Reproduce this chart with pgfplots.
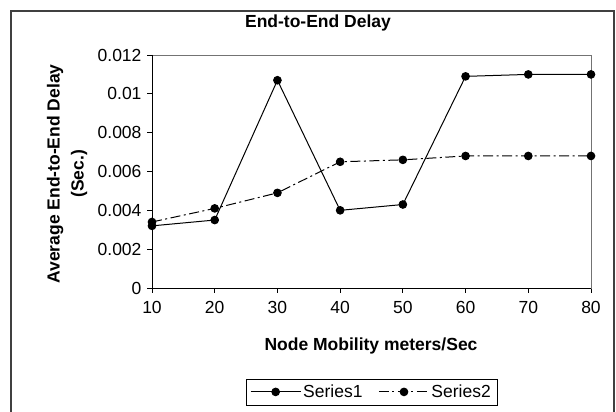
\documentclass[border=0pt]{standalone}
\usepackage{pgfplots}
\pgfplotsset{compat=1.18}
\usepackage{fontspec}
\setmainfont{Liberation Sans}
\begin{document}
\begin{tikzpicture}[x=1pt,y=1pt]
\path[use as bounding box] (0,0) rectangle (616,412);
\draw[line width=1.5pt, black!75] (11,-5) -- (11,401) -- (614,401) -- (614,-5);
\node[font=\bfseries\fontsize{17.5}{21}\selectfont] at (318,389.5) {End-to-End Delay};
\begin{axis}[at={(152pt,124pt)}, anchor=south west, scale only axis,
  width=439pt, height=233pt,
  xmin=10, xmax=80, ymin=0, ymax=0.012,
  xtick={10,20,30,40,50,60,70,80},
  ytick={0,0.002,0.004,0.006,0.008,0.01,0.012},
  yticklabels={0,0.002,0.004,0.006,0.008,0.01,0.012},
  scaled y ticks=false,
  tick align=outside, major tick length=5pt,
  xtick pos=bottom, ytick pos=left,
  axis line style={black!55, line width=0.8pt},
  tick style={black, line width=0.8pt},
  ticklabel style={font=\fontsize{17.5}{21}\selectfont},
  xticklabel style={yshift=-5pt},
  yticklabel style={xshift=-2pt},
  /pgf/number format/assume math mode=true,
  clip=false,
  legend columns=2,
  legend cell align=left,
  legend style={at={(0.5,-0.446)}, anchor=center, draw=black,
    font=\fontsize{17.5}{21}\selectfont, inner xsep=4pt, inner ysep=4pt,
    /tikz/every even column/.append style={column sep=14pt}},
  legend image code/.code={\draw[mark repeat=2,mark phase=2,#1] plot coordinates {(0pt,0pt) (25pt,0pt) (50pt,0pt)};},
]
\addplot[black, line width=1pt, mark=*, mark size=3.8pt, mark options={solid}] coordinates {
(10,0.0032) (20,0.0035) (30,0.0107) (40,0.0040) (50,0.0043) (60,0.0109) (70,0.0110) (80,0.0110)};
\addlegendentry{Series1}
\addplot[black, line width=1pt, dash pattern=on 10pt off 3.5pt on 2pt off 3.5pt, mark=*, mark size=3.8pt, mark options={solid}] coordinates {
(10,0.0034) (20,0.0041) (30,0.0049) (40,0.0065) (50,0.0066) (60,0.0068) (70,0.0068) (80,0.0068)};
\addlegendentry{Series2}
\draw[black, line width=0.8pt] (rel axis cs:0,1) -- (rel axis cs:0,0) -- (rel axis cs:1,0);
\end{axis}
\node[font=\bfseries\fontsize{17.5}{21}\selectfont] at (371,66) {Node Mobility meters/Sec};
\node[rotate=90, align=center, font=\bfseries\fontsize{17.5}{24}\selectfont] at (67,238) {Average End-to-End Delay\\(Sec.)};
\end{tikzpicture}
\end{document}
